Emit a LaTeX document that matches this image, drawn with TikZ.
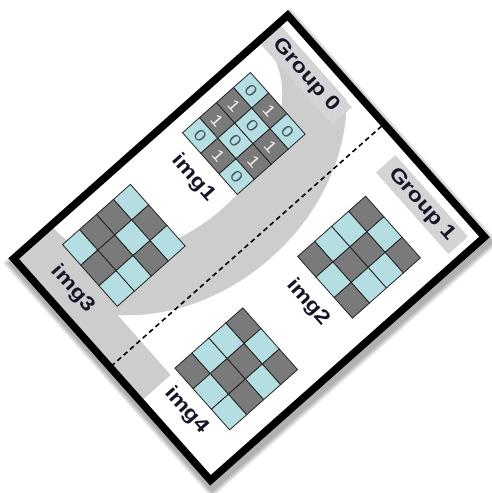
\documentclass[tikz,border=0pt]{standalone}
\usepackage{fontspec}
\setmainfont{Liberation Sans}
\newfontfamily\lblfont{Liberation Sans}[FakeStretch=1.18]
\usetikzlibrary{patterns.meta}
\definecolor{T}{RGB}{180,222,226}
\definecolor{G}{RGB}{122,122,122}
\definecolor{Tnum}{RGB}{70,88,92}
\definecolor{Gnum}{RGB}{238,238,238}
\definecolor{bandgray}{RGB}{205,205,205}
\definecolor{boxgray}{RGB}{210,210,210}
\definecolor{ink}{RGB}{20,22,40}
\definecolor{cellink}{RGB}{35,35,35}
\def\cellW{27.5}
\def\cellH{22.7}
\def\digT{0}
\def\digG{1}
% #1 name prefix, #2 u of top-left, #3 w of top-left, #4 colour list (row by row), #5 1 = print digits
\newcommand{\cellgrid}[5]{%
  \foreach [count=\n from 0] \k in {#4} {%
    \pgfmathsetmacro\cu{#2+mod(\n,3)*\cellW}%
    \pgfmathsetmacro\cw{#3+floor(\n/3)*\cellH}%
    \draw[cellline, fill=\k] (\cu,\cw) rectangle ++(\cellW,\cellH);
    \ifnum#5=1 \node[numtxt, text=\k num] (#1-\n) at (\cu+0.5*\cellW,\cw+0.5*\cellH) {\csname dig\k\endcsname};\fi
  }%
}
\begin{document}
\begin{tikzpicture}[x=1pt,y=1pt,
  cellline/.style={draw=cellink, line width=0.8pt},
  numtxt/.style={inner sep=0pt, font={\lblfont\fontsize{16}{16}\selectfont}},
  lbl/.style={inner sep=0pt, text=ink, font={\lblfont\bfseries\fontsize{20}{20}\selectfont}},
  gbox/.style={fill=boxgray, minimum height=26pt, inner sep=0pt, text=ink,
    font={\lblfont\bfseries\fontsize{20}{20}\selectfont},
    postaction={pattern={Lines[angle=0,distance=2.6pt,line width=0.2pt]}, pattern color=black!16},
    postaction={pattern={Lines[angle=90,distance=2.6pt,line width=0.2pt]}, pattern color=black!16}},
  divider/.style={black, line width=1.6pt, dash pattern=on 5pt off 3.5pt},
  frameline/.style={black, line width=7.5pt}]
\useasboundingbox (0,0) rectangle (491,493);
\begin{scope}[shift={(288,483)}, rotate=-48.4, y=-1pt, every node/.append style={transform shape}]
  % soft shadow
  \foreach \i in {1,...,6} {
    \fill[black, opacity=0.06] ({5-\i*0.9},{2-\i*0.9}) rectangle ({309+\i*0.9},{376+\i*0.9});
  }
  % panel
  \fill[white] (0,0) rectangle (304,374);
  % grey band of group 0
  \begin{scope}
    \clip (7,16) rectangle (297,331);
    \fill[bandgray, even odd rule] (10,177) ellipse [x radius=164pt, y radius=199pt]
                                   (10,180) ellipse [x radius=95pt, y radius=140pt];
  \end{scope}
  \fill[bandgray] (7,330) rectangle (195,367);
  % rounded inner corner where band meets strip
  \fill[bandgray] (112,325) -- (112,330.5) -- (124,330.5) arc[start angle=270, end angle=180, x radius=7pt, y radius=-5pt] -- cycle;
  % group labels
  \node[gbox, minimum width=108pt] (g0) at (61,30) {Group 0};
  \node[gbox, minimum width=109pt] (g1) at (234.5,29) {Group 1};
  % image grids
  \cellgrid{a}{21.75}{69.6}{T,G,T,G,T,G,G,T,G,T,G,T}{1}
  \cellgrid{b}{190.75}{65.6}{G,T,G,T,G,T,T,G,T,G,T,G}{0}
  \cellgrid{c}{25.75}{233.6}{T,G,T,G,T,G,G,G,T,T,G,T}{0}
  \cellgrid{d}{192.75}{231.6}{G,T,G,T,G,T,T,G,G,G,T,T}{0}
  % image labels
  \node[lbl] (l1) at (63,182) {img1};
  \node[lbl] (l2) at (232,179) {img2};
  \node[lbl] (l3) at (66,346) {img3};
  \node[lbl] (l4) at (232,342) {img4};
  % divider
  \coordinate (dtop) at (149,7);
  \coordinate (dbot) at (149,367);
  \draw[divider] (dtop) -- (dbot);
  % frame
  \draw[frameline] (3.75,3.75) rectangle (300.25,370.25);
\end{scope}
\end{tikzpicture}
\end{document}
